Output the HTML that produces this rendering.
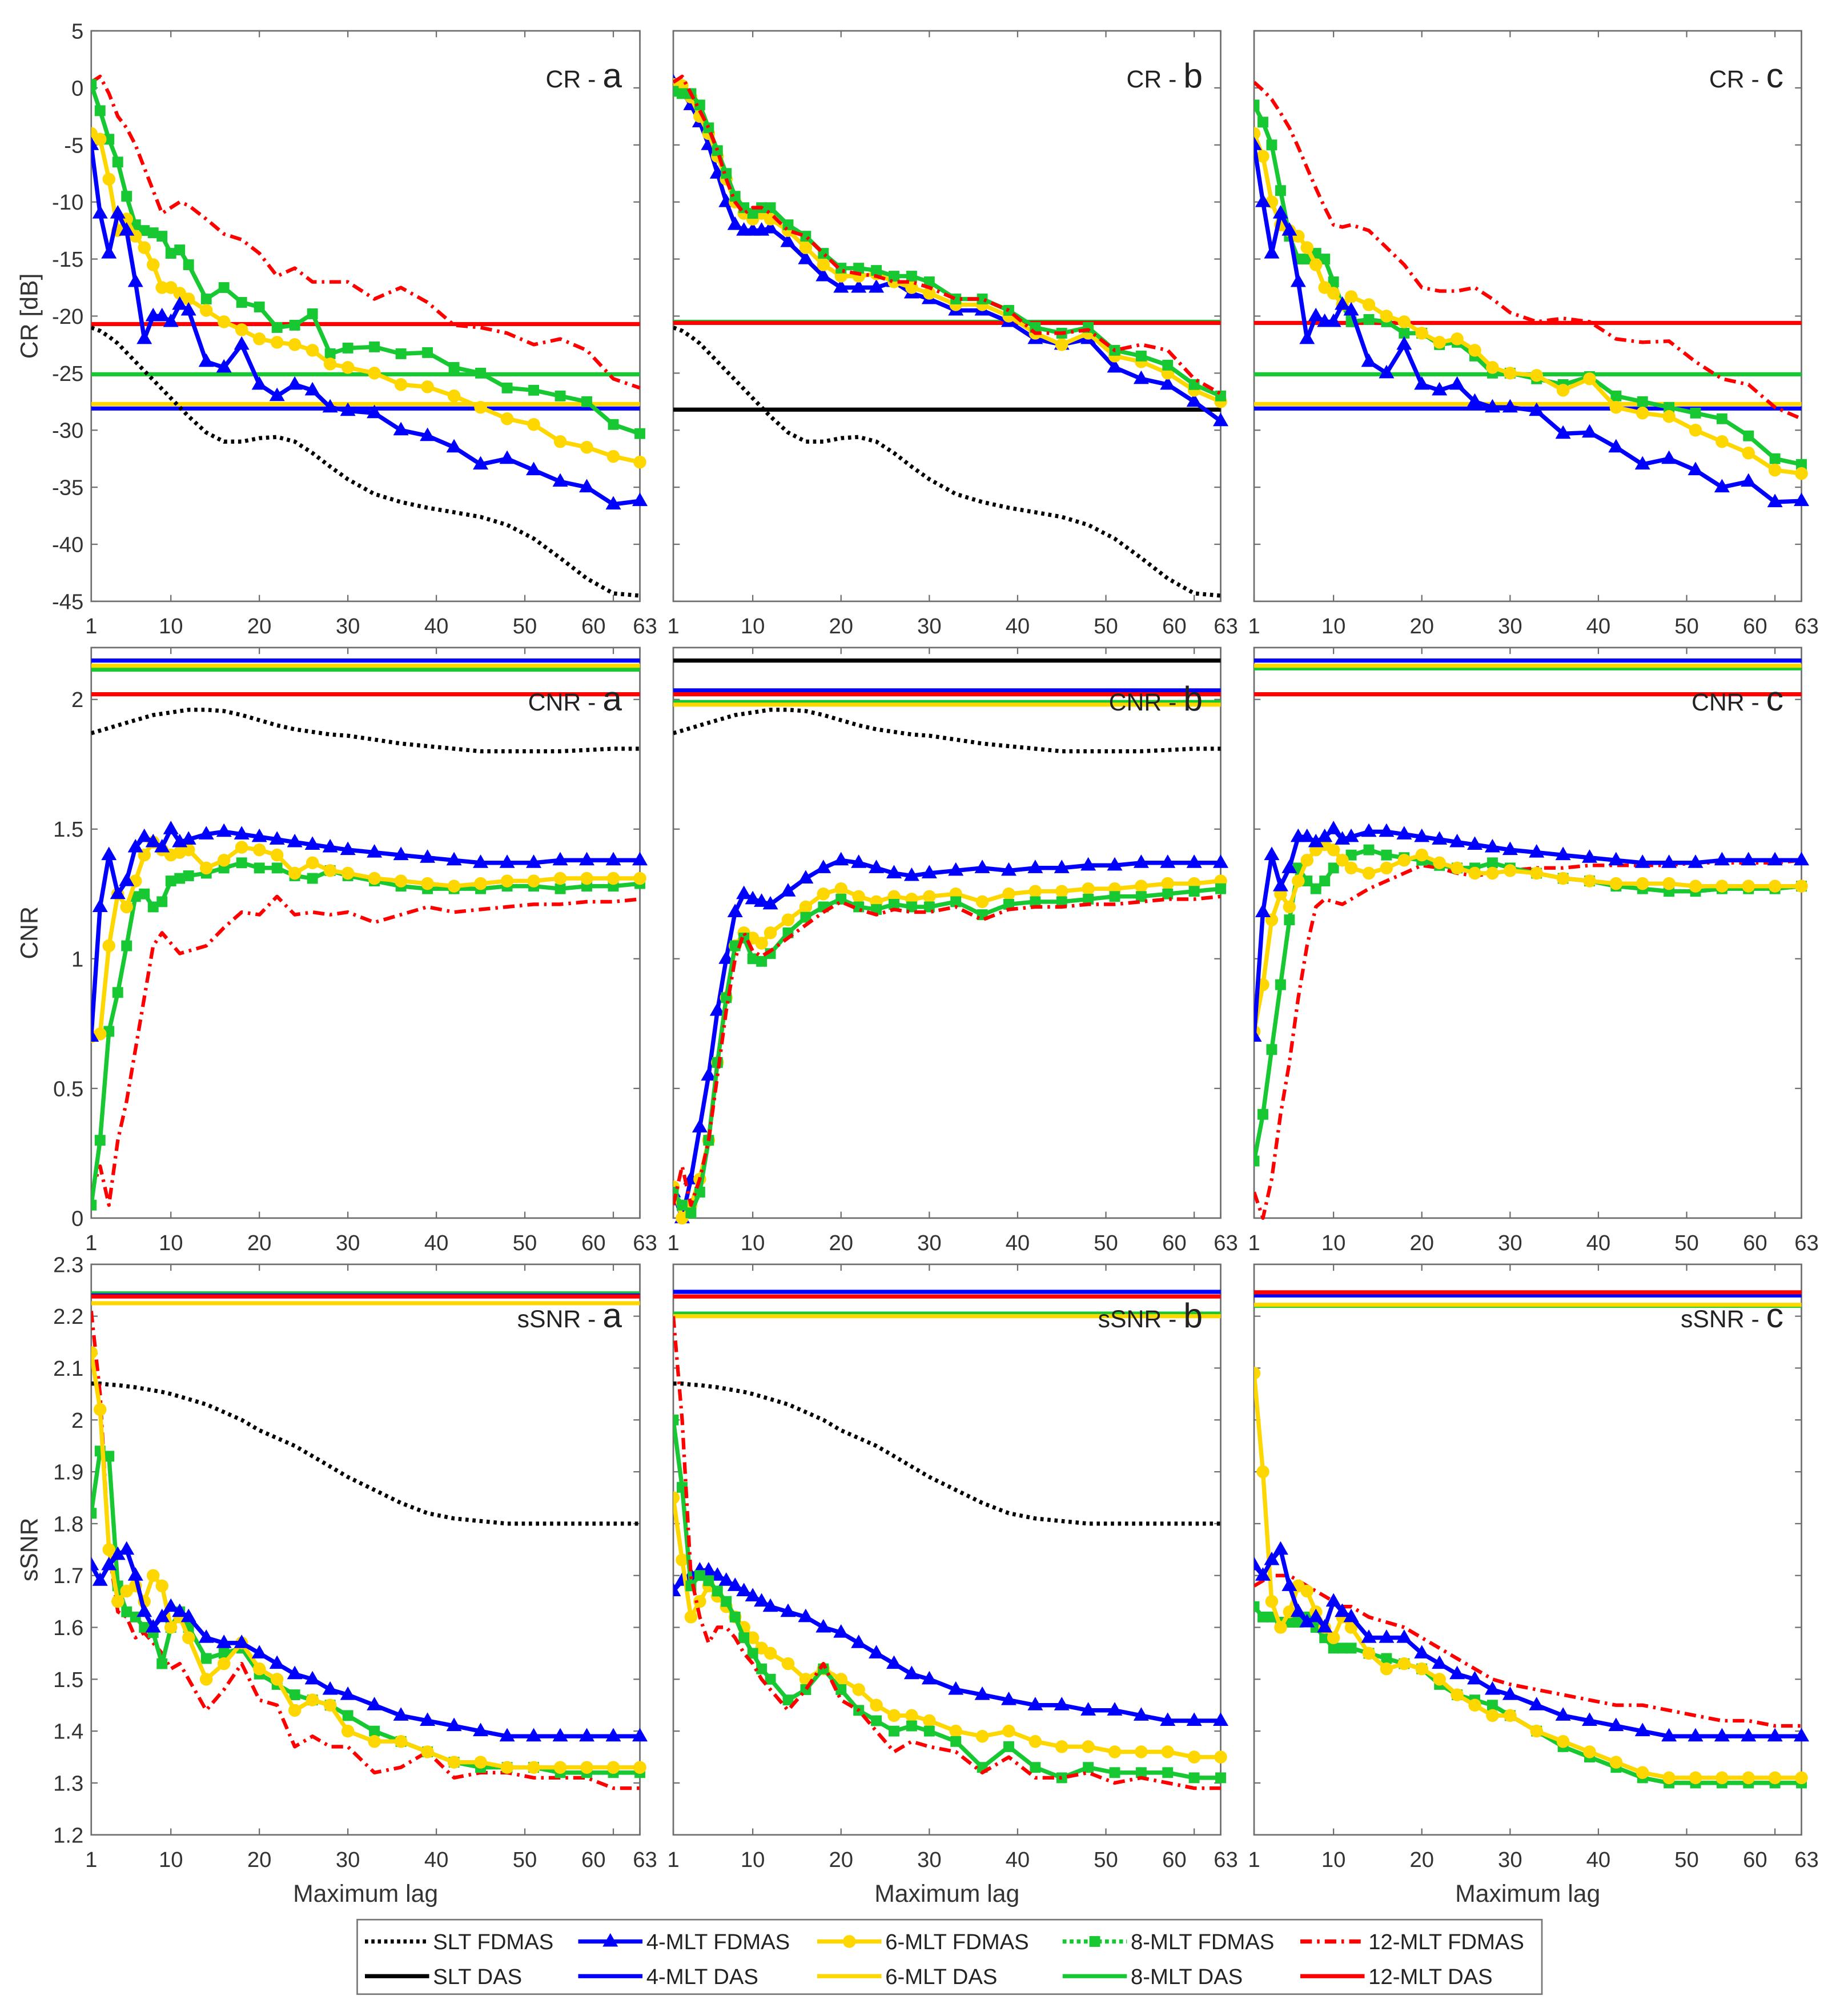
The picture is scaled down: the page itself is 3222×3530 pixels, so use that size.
<!DOCTYPE html>
<html><head><meta charset="utf-8"><title>CR / CNR / sSNR vs maximum lag</title>
<style>
html,body{margin:0;padding:0;background:#fff;}
svg{display:block;font-family:"Liberation Sans",Arial,sans-serif;}
</style></head>
<body>
<svg id="fig" width="3222" height="3530" viewBox="0 0 1432 1569" preserveAspectRatio="none" xmlns="http://www.w3.org/2000/svg"></svg>
<script>
// ---------- data ----------
const lags = [1,2,3,4,5,6,7,8,9,10,11,12,14,16,18,20,22,24,26,28,30,33,36,39,42,45,48,51,54,57,60,63];

// CR (dB)
const crSltFdmas = [-21,-21.3,-21.8,-22.4,-23.2,-24,-24.8,-25.6,-26.4,-27.2,-28,-28.8,-30.2,-31,-31,-30.7,-30.6,-31,-32,-33.2,-34.3,-35.6,-36.3,-36.8,-37.2,-37.6,-38.3,-39.5,-41.2,-43,-44.3,-44.5];
const crA4 = [-5,-11,-14.5,-11,-12.5,-17,-22,-20,-20,-20.5,-19,-19.5,-24,-24.5,-22.5,-26,-27,-26,-26.5,-28,-28.3,-28.5,-30,-30.5,-31.5,-33,-32.5,-33.5,-34.5,-35,-36.5,-36.2];
const crA6 = [-4,-4.5,-8,-12.5,-11.5,-13,-14,-15.5,-17.5,-17.5,-18,-18.5,-19.5,-20.5,-21.2,-22,-22.3,-22.5,-23,-24.2,-24.5,-25,-26,-26.2,-27,-28,-29,-29.5,-31,-31.5,-32.3,-32.8];
const crA8 = [0.3,-2,-4.5,-6.5,-9.5,-12,-12.5,-12.7,-13,-14.5,-14.2,-15.5,-18.5,-17.5,-18.8,-19.2,-21,-20.8,-19.8,-23.3,-22.8,-22.7,-23.3,-23.2,-24.5,-25,-26.3,-26.5,-27,-27.5,-29.5,-30.3];
const crA12 = [0.5,1,-0.5,-2.5,-3.5,-5,-7,-9,-11,-10.5,-10,-10.3,-11.5,-12.8,-13.3,-14.5,-16.5,-15.8,-17,-17,-17,-18.5,-17.5,-18.8,-20.8,-21,-21.5,-22.5,-22,-23,-25.5,-26.3];
const crB4 = [0.5,-0.3,-1.5,-3,-5,-7.5,-10,-12,-12.5,-12.5,-12.5,-12.3,-13.5,-15,-16.5,-17.5,-17.5,-17.5,-17,-18,-18.5,-19.5,-19.5,-20.5,-22,-22.5,-22,-24.5,-25.5,-26,-27.5,-29.2];
const crB6 = [0.3,0.2,-0.8,-2.5,-4,-6,-8,-10,-11,-11.5,-11,-11.5,-12.5,-14,-15.5,-16.5,-16.5,-16.3,-17,-17.5,-18,-19,-19,-20,-21.5,-22.5,-21.5,-23.5,-24,-25,-26.5,-27.5];
const crB8 = [-0.3,-0.5,-0.5,-1.5,-3.5,-5.5,-7.5,-9.5,-10.5,-11,-10.5,-10.5,-12,-13,-14.5,-15.8,-15.8,-16,-16.5,-16.5,-17,-18.5,-18.5,-19.5,-21,-21.5,-21,-23,-23.5,-24.3,-26,-27];
const crB12 = [0.5,1,-0.5,-2,-3.5,-5.5,-8,-10,-11,-10.5,-10.5,-11,-12.5,-13,-14.5,-16,-16.3,-16.5,-17,-17,-17.5,-18.5,-18.5,-19.5,-21.5,-21.5,-21.2,-23,-22.5,-23,-25.5,-26.8];
const crC4 = [-5,-10,-14.5,-11,-12.5,-17,-22,-20,-20.5,-20.5,-19,-19.5,-24,-25,-22.5,-26,-26.5,-26,-27.5,-28,-28,-28.3,-30.3,-30.2,-31.5,-33,-32.5,-33.5,-35,-34.5,-36.3,-36.2];
const crC6 = [-4,-6,-10,-12,-12.5,-13,-14,-15.5,-17.5,-18,-19,-18.3,-19,-20,-20.5,-21.5,-22.3,-22,-23,-24.5,-25,-25.2,-26.5,-25.5,-28,-28.5,-28.8,-30,-31,-32,-33.5,-33.8];
const crC8 = [-1.5,-3,-5,-9,-13,-15,-15,-14.5,-15,-17,-19,-20.5,-20.3,-20.5,-21.5,-21.5,-22.5,-22.3,-23.5,-25,-25,-25.5,-26,-25.3,-27,-27.5,-28,-28.5,-29,-30.5,-32.5,-33];
const crC12 = [0.5,-0.2,-1,-2.2,-3.5,-5.2,-7,-8.8,-10.5,-12,-12.2,-12,-12.5,-14,-15.5,-17.5,-17.8,-17.8,-17.5,-18.5,-19.7,-20.5,-20.2,-20.5,-22,-22.3,-22.2,-24,-25.5,-26,-28,-29];
const crDasA = [null,-28.1,-27.7,-25.1,-20.7]; // SLT,4,6,8,12
const crDasB = [-28.2,-20.6,-20.6,-20.5,-20.6];
const crDasC = [null,-28.1,-27.7,-25.1,-20.6];

// CNR
const cnrSltFdmas = [1.87,1.88,1.89,1.9,1.91,1.92,1.93,1.94,1.945,1.95,1.955,1.96,1.96,1.955,1.94,1.92,1.9,1.885,1.875,1.865,1.86,1.845,1.83,1.82,1.81,1.8,1.8,1.8,1.8,1.805,1.81,1.81];
const cnrA4 = [0.7,1.2,1.4,1.25,1.3,1.43,1.47,1.45,1.43,1.5,1.45,1.46,1.48,1.49,1.48,1.47,1.46,1.45,1.44,1.43,1.42,1.41,1.4,1.39,1.38,1.37,1.37,1.37,1.38,1.38,1.38,1.38];
const cnrA6 = [0.7,0.71,1.05,1.25,1.2,1.3,1.4,1.45,1.42,1.4,1.41,1.42,1.35,1.38,1.43,1.42,1.4,1.33,1.37,1.34,1.33,1.31,1.3,1.29,1.28,1.29,1.3,1.3,1.31,1.31,1.31,1.31];
const cnrA8 = [0.05,0.3,0.72,0.87,1.05,1.24,1.25,1.2,1.22,1.3,1.31,1.32,1.33,1.35,1.37,1.35,1.35,1.32,1.31,1.34,1.32,1.3,1.28,1.27,1.27,1.27,1.28,1.28,1.27,1.28,1.28,1.29];
const cnrA12 = [0.1,0.2,0.05,0.3,0.45,0.65,0.85,1.05,1.1,1.06,1.02,1.03,1.05,1.12,1.18,1.17,1.24,1.17,1.18,1.17,1.18,1.14,1.17,1.2,1.18,1.19,1.2,1.21,1.21,1.22,1.22,1.23];
const cnrB4 = [0.1,0.0,0.15,0.35,0.55,0.8,1.0,1.18,1.25,1.23,1.22,1.21,1.26,1.31,1.35,1.38,1.37,1.35,1.33,1.32,1.33,1.34,1.35,1.34,1.35,1.35,1.36,1.36,1.37,1.37,1.37,1.37];
const cnrB6 = [0.12,0.0,0.05,0.15,0.3,0.6,0.85,1.05,1.1,1.08,1.06,1.1,1.15,1.2,1.25,1.27,1.24,1.22,1.24,1.23,1.24,1.25,1.22,1.25,1.26,1.26,1.27,1.27,1.28,1.29,1.29,1.3];
const cnrB8 = [0.1,0.05,0.02,0.1,0.3,0.6,0.85,1.05,1.08,1.0,0.99,1.02,1.1,1.16,1.2,1.23,1.2,1.19,1.21,1.2,1.2,1.22,1.17,1.21,1.22,1.22,1.23,1.24,1.24,1.25,1.26,1.27];
const cnrB12 = [0.05,0.2,0.05,0.15,0.3,0.55,0.8,1.0,1.1,1.03,1.01,1.03,1.08,1.13,1.18,1.22,1.19,1.17,1.19,1.18,1.18,1.2,1.15,1.19,1.2,1.2,1.21,1.21,1.22,1.23,1.23,1.24];
const cnrC4 = [0.7,1.18,1.4,1.28,1.35,1.47,1.47,1.45,1.47,1.5,1.46,1.47,1.49,1.49,1.48,1.47,1.46,1.45,1.44,1.43,1.42,1.41,1.4,1.39,1.38,1.37,1.37,1.37,1.38,1.38,1.38,1.38];
const cnrC6 = [0.72,0.9,1.15,1.25,1.2,1.3,1.38,1.42,1.44,1.42,1.38,1.35,1.33,1.35,1.38,1.4,1.37,1.35,1.33,1.33,1.34,1.33,1.31,1.3,1.29,1.29,1.29,1.28,1.28,1.28,1.28,1.28];
const cnrC8 = [0.22,0.4,0.65,0.9,1.15,1.35,1.3,1.27,1.3,1.35,1.38,1.4,1.42,1.4,1.39,1.38,1.36,1.35,1.35,1.37,1.35,1.33,1.31,1.3,1.28,1.27,1.26,1.26,1.27,1.27,1.27,1.28];
const cnrC12 = [0.1,0.0,0.15,0.4,0.6,0.85,1.05,1.2,1.23,1.22,1.21,1.23,1.27,1.3,1.33,1.36,1.35,1.33,1.32,1.33,1.34,1.35,1.35,1.36,1.36,1.36,1.36,1.37,1.37,1.37,1.37,1.38];
const cnrDasA = [null,2.15,2.13,2.115,2.02];
const cnrDasB = [2.15,2.035,1.98,1.99,2.02];
const cnrDasC = [null,2.15,2.13,2.12,2.02];

// sSNR
const ssnrSltFdmas = [2.07,2.07,2.068,2.067,2.065,2.063,2.06,2.057,2.054,2.05,2.045,2.04,2.03,2.015,2.0,1.98,1.965,1.95,1.93,1.91,1.89,1.865,1.84,1.82,1.81,1.805,1.8,1.8,1.8,1.8,1.8,1.8];
const ssnrA4 = [1.72,1.69,1.72,1.74,1.75,1.7,1.63,1.6,1.62,1.64,1.63,1.62,1.58,1.57,1.57,1.55,1.53,1.51,1.5,1.48,1.47,1.45,1.43,1.42,1.41,1.4,1.39,1.39,1.39,1.39,1.39,1.39];
const ssnrA6 = [2.13,2.02,1.75,1.65,1.67,1.68,1.65,1.7,1.68,1.6,1.62,1.58,1.5,1.53,1.57,1.52,1.5,1.44,1.46,1.45,1.4,1.38,1.38,1.36,1.34,1.34,1.33,1.33,1.33,1.33,1.33,1.33];
const ssnrA8 = [1.82,1.94,1.93,1.68,1.63,1.62,1.6,1.59,1.53,1.6,1.63,1.6,1.54,1.55,1.56,1.51,1.49,1.47,1.46,1.45,1.43,1.4,1.38,1.36,1.34,1.33,1.33,1.33,1.32,1.32,1.32,1.32];
const ssnrA12 = [2.21,2.05,1.75,1.63,1.62,1.58,1.59,1.57,1.55,1.52,1.53,1.5,1.44,1.48,1.53,1.46,1.45,1.37,1.39,1.37,1.37,1.32,1.33,1.36,1.31,1.32,1.32,1.31,1.31,1.31,1.29,1.29];
const ssnrB4 = [1.67,1.69,1.7,1.71,1.71,1.7,1.69,1.68,1.67,1.66,1.65,1.64,1.63,1.62,1.6,1.59,1.57,1.55,1.53,1.51,1.5,1.48,1.47,1.46,1.45,1.45,1.44,1.44,1.43,1.42,1.42,1.42];
const ssnrB6 = [1.85,1.73,1.62,1.65,1.68,1.66,1.64,1.62,1.6,1.58,1.56,1.55,1.53,1.5,1.52,1.5,1.48,1.45,1.43,1.43,1.42,1.4,1.39,1.4,1.38,1.37,1.37,1.36,1.36,1.36,1.35,1.35];
const ssnrB8 = [2.0,1.87,1.68,1.7,1.69,1.67,1.65,1.62,1.58,1.55,1.52,1.5,1.46,1.48,1.52,1.48,1.44,1.42,1.4,1.41,1.4,1.38,1.33,1.37,1.33,1.31,1.33,1.32,1.32,1.32,1.31,1.31];
const ssnrB12 = [2.2,2.0,1.7,1.62,1.57,1.6,1.6,1.58,1.55,1.53,1.5,1.48,1.44,1.48,1.53,1.46,1.44,1.4,1.36,1.38,1.37,1.36,1.32,1.35,1.31,1.31,1.32,1.3,1.31,1.3,1.29,1.29];
const ssnrC4 = [1.72,1.7,1.73,1.75,1.68,1.63,1.61,1.62,1.6,1.65,1.63,1.62,1.58,1.58,1.58,1.55,1.53,1.51,1.5,1.48,1.47,1.45,1.43,1.42,1.41,1.4,1.39,1.39,1.39,1.39,1.39,1.39];
const ssnrC6 = [2.09,1.9,1.65,1.6,1.63,1.68,1.67,1.63,1.6,1.58,1.62,1.6,1.55,1.52,1.53,1.52,1.5,1.47,1.45,1.43,1.43,1.4,1.38,1.36,1.34,1.32,1.31,1.31,1.31,1.31,1.31,1.31];
const ssnrC8 = [1.64,1.62,1.62,1.61,1.61,1.61,1.62,1.6,1.58,1.56,1.56,1.56,1.55,1.54,1.53,1.52,1.49,1.47,1.46,1.45,1.43,1.4,1.37,1.35,1.33,1.31,1.3,1.3,1.3,1.3,1.3,1.3];
const ssnrC12 = [1.68,1.69,1.7,1.7,1.7,1.69,1.68,1.67,1.66,1.65,1.64,1.64,1.62,1.61,1.6,1.58,1.56,1.54,1.52,1.5,1.49,1.48,1.47,1.46,1.45,1.45,1.44,1.43,1.42,1.42,1.41,1.41];
const ssnrDasA = [null,2.24,2.225,2.244,2.238];
const ssnrDasB = [null,2.247,2.2,2.205,2.238];
const ssnrDasC = [null,2.24,2.222,2.22,2.246];

const xTicks = [1,10,20,30,40,50,60,63];
const crTicks = [5,0,-5,-10,-15,-20,-25,-30,-35,-40,-45];
const cnrTicks = [0,0.5,1,1.5,2];
const ssnrTicks = [1.2,1.3,1.4,1.5,1.6,1.7,1.8,1.9,2,2.1,2.2,2.3];
const legendLabels = ["SLT FDMAS","4-MLT FDMAS","6-MLT FDMAS","8-MLT FDMAS","12-MLT FDMAS","SLT DAS","4-MLT DAS","6-MLT DAS","8-MLT DAS","12-MLT DAS"];

// ---------- drawing ----------
const NS = "http://www.w3.org/2000/svg";
const svg = document.getElementById('fig');
function mk(tag, attrs, parent){ const e=document.createElementNS(NS,tag); for(const k in attrs) e.setAttribute(k,attrs[k]); (parent||svg).appendChild(e); return e; }

const COLORS = ["#000000","#0000ff","#ffd700","#17c832","#ff0000"];
const colX = [[71,498],[524,950],[976,1402]];
const rows = [
  {top:24, bot:468, min:-45, max:5, ticks:crTicks, name:"CR", ylabel:"CR [dB]",
   slt:crSltFdmas, series:[[crA4,crA6,crA8,crA12],[crB4,crB6,crB8,crB12],[crC4,crC6,crC8,crC12]],
   das:[crDasA,crDasB,crDasC], sltCols:[true,true,false], titleY:68},
  {top:504, bot:948, min:0, max:2.2, ticks:cnrTicks, name:"CNR", ylabel:"CNR",
   slt:cnrSltFdmas, series:[[cnrA4,cnrA6,cnrA8,cnrA12],[cnrB4,cnrB6,cnrB8,cnrB12],[cnrC4,cnrC6,cnrC8,cnrC12]],
   das:[cnrDasA,cnrDasB,cnrDasC], sltCols:[true,true,false], titleY:553},
  {top:984, bot:1428, min:1.2, max:2.3, ticks:ssnrTicks, name:"sSNR", ylabel:"sSNR",
   slt:ssnrSltFdmas, series:[[ssnrA4,ssnrA6,ssnrA8,ssnrA12],[ssnrB4,ssnrB6,ssnrB8,ssnrB12],[ssnrC4,ssnrC6,ssnrC8,ssnrC12]],
   das:[ssnrDasA,ssnrDasB,ssnrDasC], sltCols:[true,true,false], titleY:1033}
];
const letters = ["a","b","c"];

function marker(g, type, x, y, color){
  let m;
  if(type===1){ m=mk('polygon',{points:`${x},${y-6.5} ${x-6},${y+4} ${x+6},${y+4}`,fill:color},g); }
  else if(type===2){ m=mk('circle',{cx:x,cy:y,r:5,fill:color},g); }
  else if(type===3){ m=mk('rect',{x:x-4.2,y:y-4.2,width:8.4,height:8.4,fill:color},g); }
  if(m){   }
}

rows.forEach((row, ri)=>{
  colX.forEach((cx, ci)=>{
    const [x0,x1]=cx;
    const xs = v => x0 + (v-1)/(63-1)*(x1-x0);
    const ys = v => row.bot - (v-row.min)/(row.max-row.min)*(row.bot-row.top);
    const panel = mk('g',{});
    
    
    const clipId = `clip${ri}${ci}`;
    const cp = mk('clipPath',{id:clipId},panel); mk('rect',{x:x0,y:row.top-8,width:x1-x0+8,height:row.bot-row.top+16},cp);
    const frame = mk('rect',{x:x0,y:row.top,width:x1-x0,height:row.bot-row.top,fill:'none',stroke:'#6e6e6e','stroke-width':1.2},panel);
     
    xTicks.forEach(t=>{
      const x=xs(t);
      mk('line',{x1:x,y1:row.bot,x2:x,y2:row.bot-5,stroke:'#6e6e6e','stroke-width':1},panel);
      mk('line',{x1:x,y1:row.top,x2:x,y2:row.top+5,stroke:'#6e6e6e','stroke-width':1},panel);
      const lbl = mk('text',{x: t===60? x-6 : (t===63? x+4 : x), y:row.bot+25,'font-size':17,'text-anchor':t===60?'end':(t===63?'middle':'middle'),fill:'#333'},panel);
      lbl.textContent = String(t);
       
    });
    row.ticks.forEach(t=>{
      const y=ys(t);
      mk('line',{x1:x0,y1:y,x2:x0+5,y2:y,stroke:'#6e6e6e','stroke-width':1},panel);
      mk('line',{x1:x1,y1:y,x2:x1-5,y2:y,stroke:'#6e6e6e','stroke-width':1},panel);
      if(ci===0){
        const lbl = mk('text',{x:x0-6,y:y+6,'font-size':17,'text-anchor':'end',fill:'#333'},panel);
        lbl.textContent = String(t);
         
      }
    });
    const plot = mk('g',{'clip-path':`url(#${clipId})`},panel);
    const das = row.das[ci];
    [3,2,1,4,0].forEach(k=>{
      if(das[k]===null) return;
      const l = mk('line',{x1:x0,x2:x1,y1:ys(das[k]),y2:ys(das[k]),stroke:COLORS[k],'stroke-width':3.2},plot);
      
      
    });
    if(row.sltCols[ci]){
      const p = mk('path',{d:'M'+lags.map((l,i)=>`${xs(l).toFixed(1)},${ys(row.slt[i]).toFixed(1)}`).join(' L'),fill:'none',stroke:'#000','stroke-width':3.2,'stroke-dasharray':'2.5 3'},plot);
       
    }
    const order=[1,2,3,4];
    const names=['4-mlt-fdmas','6-mlt-fdmas','8-mlt-fdmas','12-mlt-fdmas'];
    const draw = ci===1 ? [0,1,2,3] : [3,2,1,0];
    draw.forEach(si=>{
      const vals=row.series[ci][si];
      const k=order[si];
      const attrs={d:'M'+lags.map((l,i)=>`${xs(l).toFixed(1)},${ys(vals[i]).toFixed(1)}`).join(' L'),fill:'none',stroke:COLORS[k],'stroke-width':k===4?2.8:3.3,'stroke-linejoin':'round'};
      if(k===4) attrs['stroke-dasharray']='9 4 2 4';
      const g = mk('g',{},plot);
       
      const p = mk('path',attrs,g);
       
      if(k<4) lags.forEach((l,i)=>marker(g,k,xs(l),ys(vals[i]),COLORS[k]));
    });
    const tt = mk('text',{x:x1-14,y:row.titleY,'text-anchor':'end',fill:'#222'},panel);
     
    const t1 = mk('tspan',{'font-size':19},tt); t1.textContent = row.name+' - ';
    const t2 = mk('tspan',{'font-size':27},tt); t2.textContent = letters[ci];
    if(ri===2){
      const xl = mk('text',{x:(x0+x1)/2,y:1480,'font-size':19,'text-anchor':'middle',fill:'#333'},panel);
      xl.textContent='Maximum lag';
       
    }
  });
  const yl = mk('text',{x:0,y:0,'font-size':19,'text-anchor':'middle',fill:'#333',transform:`translate(29,${(row.top+row.bot)/2}) rotate(-90)`});
  yl.textContent = row.ylabel;
   
});

// legend
const lg = mk('g',{});
 
const lbox = mk('rect',{x:278,y:1494,width:922,height:58,fill:'#fff',stroke:'#777','stroke-width':1.2},lg);
 
const legX=[284,450,636,827,1012];
legendLabels.forEach((lab,i)=>{
  const r=Math.floor(i/5), c=i%5;
  const y = r===0? 1511 : 1538;
  const xa=legX[c], xb=legX[c]+50;
  const e = mk('g',{},lg);
   
  const attrs={x1:xa,x2:xb,y1:y,y2:y,stroke:COLORS[c],'stroke-width':3.2};
  if(r===0 && c===0){attrs['stroke-dasharray']='2.5 2.5';}
  if(r===0 && c===3){attrs['stroke-dasharray']='3 2.5';}
  if(r===0 && c===4){attrs['stroke-dasharray']='9 4 2 4';}
  mk('line',attrs,e);
  if(r===0 && c>=1 && c<=3) marker(e,c,(xa+xb)/2,y,COLORS[c]);
  const t = mk('text',{x:xb+3,y:y+6,'font-size':17,fill:'#222'},e);
  t.textContent = lab;
});
</script>
</body></html>
